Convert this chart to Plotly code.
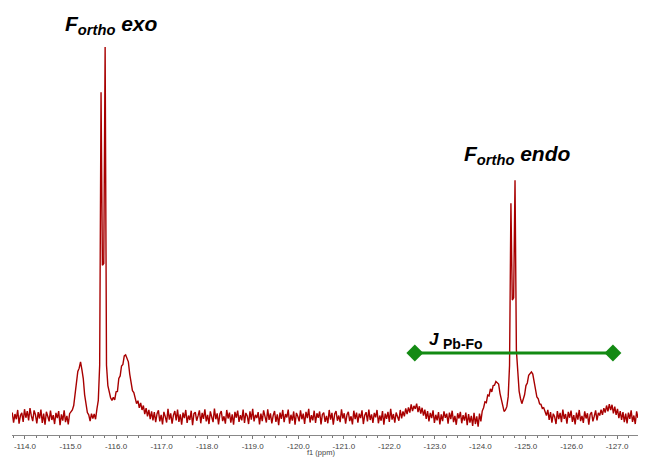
import plotly.graph_objects as go

# ---- data ----
ppm_start = -113.72
ppm_step = -0.03
intensity = [
    1.2, -1.5, 0.8, -0.6, 1.9, -1.8, 0.4, 1.1, -1.3, 2.1, -0.2, 1.6, -0.9, 2.4, 0.3,
    -1.1, 1.8, 0.6, -1.7, 1.3, -0.4, 2.0, -1.6, 0.9, -2.1, 1.4, 0.2, -1.2, 1.7, -0.8,
    0.5, -1.9, 1.1, -0.3, 1.6, -2.2, 0.7, -1.0, 1.8, -1.4, 0.3, -2.0, 0.9, 1.5, 1.9,
    3.1, 6.4, 8.6, 12.3, 13.2, 14.9, 12.8, 10.4, 6.0, 4.1, 1.2, 0.6, -1.1, 0.9, -0.4,
    0.8, -0.6, 2.2, 4.5, 14.0, 87.8, 41.0, 41.5, 100.0, 14.0, 8.5, 6.5, 5.2, 4.5, 5.3,
    4.6, 6.8, 6.9, 10.4, 11.1, 13.8, 14.2, 16.5, 16.8, 15.9, 14.9, 11.6, 9.8, 7.1, 6.6,
    5.1, 3.6, 4.4, 2.5, 3.8, 1.9, 3.1, 0.8, 2.4, 0.2, 1.9, -0.6, 1.5, -0.9, 1.3,
    -1.4, 0.9, 1.8, -1.2, 0.6, -2.0, 1.4, 0.1, -1.5, 2.2, -0.7, 1.0, -1.8, 0.5, 1.6,
    -0.9, 2.0, -1.3, 0.7, -2.1, 1.2, -0.3, 1.9, -1.6, 0.4, -0.8, 1.7, -2.2, 0.9, 1.3,
    -1.0, 0.3, 1.8, -1.7, 1.1, -0.5, 2.1, -1.2, 0.6, -1.9, 1.5, 0.0, -1.4, 2.3, -0.6,
    1.0, -2.0, 0.8, 1.6, -1.1, 0.2, -1.8, 1.9, -0.4, 1.2, -1.5, 0.7, -2.1, 1.4, -0.2,
    1.7, -1.3, 0.5, -0.9, 2.0, -1.6, 1.1, 0.3, -1.9, 1.5, -0.7, 2.2, -1.2, 0.6, -0.3,
    1.3, -2.0, 0.9, -1.1, 1.8, 0.1, -1.5, 2.1, -0.8, 1.0, -1.7, 0.4, 1.6, -1.3, 0.7,
    -2.2, 1.2, -0.5, 1.9, -1.4, 0.8, -0.1, 2.0, -1.8, 0.6, -1.0, 1.5, -2.1, 1.1, 0.2,
    -1.2, 1.8, -0.6, 0.9, -1.9, 1.4, -0.3, 2.2, -1.5, 0.5, -0.9, 1.7, -1.6, 1.0, -0.2,
    1.5, -2.0, 0.7, 1.2, -1.3, 0.3, -1.7, 1.9, -0.7, 1.1, -2.1, 0.8, 1.6, -1.0, 0.4,
    -1.4, 2.1, -0.4, 1.0, -1.8, 0.6, 1.4, -1.1, 0.2, -2.0, 1.7, -0.6, 1.2, -1.5, 0.9,
    -0.3, 1.8, -1.9, 0.5, 1.3, -1.2, 2.0, -0.8, 0.7, -1.6, 1.1, -0.1, 1.9, -1.7, 0.4,
    -1.0, 1.6, -2.1, 0.9, -0.5, 1.4, -1.3, 2.2, -0.7, 0.8, -1.5, 1.2, 0.1, -1.0, 1.9,
    -0.4, 1.5, 0.2, 2.3, 0.8, 2.6, 1.2, 3.4, 1.6, 3.0, 2.2, 3.6, 1.3, 2.9, 0.9,
    2.5, 0.4, 2.0, -0.5, 1.6, -1.2, 1.1, -0.3, 1.8, -1.6, 0.6, -0.9, 1.3, -2.0, 0.7,
    -1.1, 1.5, -0.2, 0.9, -1.8, 1.2, -0.6, 1.7, -1.4, 0.3, -2.1, 1.0, -0.4, 1.4, -1.7,
    0.5, -1.0, 1.2, -2.2, 0.8, -1.5, 0.3, -2.4, 1.1, -1.9, 0.2, -2.6, 0.9, -1.2, 1.6,
    2.5, 4.1, 3.9, 5.9, 5.7, 7.6, 6.8, 8.5, 8.6, 9.6, 9.2, 8.9, 6.4, 4.7, 2.3,
    1.5, 1.9, 2.8, 5.5, 14.0, 57.8, 31.6, 32.2, 64.0, 18.0, 10.5, 7.0, 5.0, 3.6, 4.8,
    6.0, 8.5, 9.2, 11.3, 11.7, 12.2, 11.6, 9.2, 8.0, 5.4, 4.9, 3.5, 3.4, 2.3, 2.5,
    1.6, 0.4, 1.9, -0.8, 1.3, -1.5, 0.9, 0.1, -1.9, 1.6, -0.6, 1.1, -1.4, 2.0, -0.5,
    0.8, -1.8, 1.4, -0.2, 1.7, -1.3, 0.5, -2.0, 1.2, -0.7, 1.9, -1.1, 0.3, -1.6, 1.5,
    -0.4, 1.0, -2.1, 0.7, 1.3, -1.2, 0.2, 1.8, -0.9, 1.1, 0.4, 2.0, 0.6, 2.4, 1.2,
    3.1, 1.5, 3.5, 1.9, 3.3, 1.0, 2.8, 0.6, 2.2, -0.3, 1.6, -0.8, 1.3, -1.4, 0.9,
    -1.7, 1.2, -0.5, 1.8, -1.3, 0.4, -1.9, 1.5, -0.2, 0.9, -1.6, 1.3, -0.7, 1.0, -1.2,
]
ppm = [round(ppm_start + ppm_step * i, 4) for i in range(len(intensity))]

tick_vals = [-114, -115, -116, -117, -118, -119, -120, -121, -122, -123, -124, -125, -126, -127]
tick_labels = ["-114.0", "-115.0", "-116.0", "-117.0", "-118.0", "-119.0", "-120.0",
               "-121.0", "-122.0", "-123.0", "-124.0", "-125.0", "-126.0", "-127.0"]

coupling_ppm = [-122.56, -126.91]
coupling_level = [17.3, 17.3]

peak_labels = ["F<sub>ortho</sub> exo", "F<sub>ortho</sub> endo"]
peak_label_ppm = [-115.89, -124.815]
peak_label_level = [105.9, 70.8]

# ---- figure ----
fig = go.Figure()
fig.add_trace(go.Scatter(x=ppm, y=intensity, mode="lines",
                         line=dict(color="#A80000", width=1.4), hoverinfo="skip"))
fig.add_trace(go.Scatter(x=coupling_ppm, y=coupling_level, mode="lines+markers",
                         line=dict(color="#138A13", width=3),
                         marker=dict(symbol="diamond", size=13, color="#138A13")))

for txt, xp, yp in zip(peak_labels, peak_label_ppm, peak_label_level):
    fig.add_annotation(x=xp, y=yp, text=txt, showarrow=False, xanchor="center", yanchor="middle",
                       font=dict(family="Liberation Sans", size=21, color="black",
                                 weight="bold", style="italic"))

fig.add_annotation(x=-122.98, y=21.0, text="J", showarrow=False, xanchor="center", yanchor="middle",
                   font=dict(family="Liberation Sans", size=17, color="black", weight="bold", style="italic"))
fig.add_annotation(x=-123.607, y=19.6, text="Pb-Fo", showarrow=False, xanchor="center", yanchor="middle",
                   font=dict(family="Liberation Sans", size=14, color="black", weight="bold"))

fig.add_annotation(xref="paper", yref="paper", x=0.487, y=-0.041, text="f1 (ppm)", showarrow=False,
                   xanchor="center", yanchor="middle",
                   font=dict(family="Liberation Sans", size=7.5, color="#444"))

# the page body adds an 8px offset, so the figure is sized to fit the remaining window
fig.update_layout(
    width=638, height=450,
    margin=dict(l=4, r=0, t=0, b=23),
    paper_bgcolor="white", plot_bgcolor="white",
    showlegend=False,
    xaxis=dict(range=[-113.715, -127.636], tickmode="array", tickvals=tick_vals, ticktext=tick_labels,
               ticks="outside", ticklen=3, tickcolor="#777", showline=True, linecolor="#888",
               linewidth=1, showgrid=False, zeroline=False,
               tickfont=dict(family="Liberation Sans", size=8, color="#444"),
               minor=dict(tickmode="linear", tick0=-114, dtick=0.25, ticks="outside",
                          ticklen=2, tickcolor="#777", showgrid=False)),
    yaxis=dict(visible=False, range=[-4.865, 110.54]),
)

fig.write_html("out.html")
